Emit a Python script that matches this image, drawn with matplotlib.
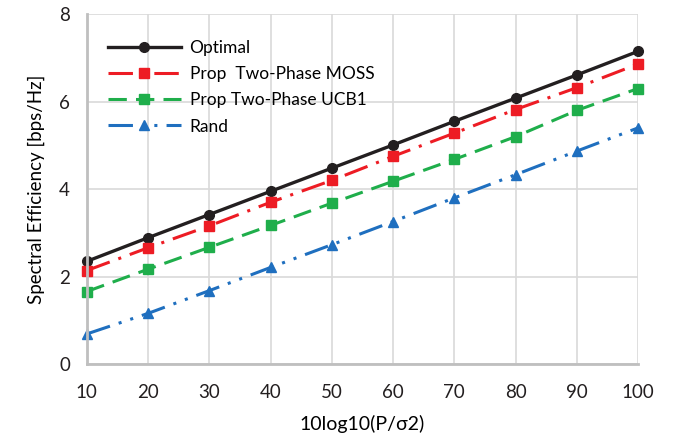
import matplotlib
matplotlib.use("Agg")
import matplotlib.pyplot as plt

plt.rcParams['font.family'] = ['Lato', 'DejaVu Sans']

snr = [10, 20, 30, 40, 50, 60, 70, 80, 90, 100]
optimal = [2.35, 2.89, 3.42, 3.95, 4.48, 5.01, 5.55, 6.08, 6.61, 7.15]
moss = [2.14, 2.66, 3.16, 3.70, 4.20, 4.75, 5.28, 5.82, 6.32, 6.86]
ucb1 = [1.66, 2.17, 2.67, 3.17, 3.68, 4.18, 4.68, 5.20, 5.80, 6.30]
rand = [0.69, 1.16, 1.68, 2.21, 2.73, 3.26, 3.80, 4.33, 4.87, 5.40]

fig = plt.figure(figsize=(6.78, 4.43), dpi=100)
ax = fig.add_axes([0.128, 0.178, 0.813, 0.79])

ax.plot(snr, optimal, color='#231f20', lw=2.4, marker='o', ms=7, label='Optimal')
ax.plot(snr, moss, color='#ed1c24', lw=2.2, marker='s', ms=7,
        dashes=(8, 3, 1, 3), label='Prop  Two-Phase MOSS')
ax.plot(snr, ucb1, color='#1fae4b', lw=2.2, marker='s', ms=7,
        dashes=(6, 3), label='Prop Two-Phase UCB1')
ax.plot(snr, rand, color='#1f6fbf', lw=2.2, marker='^', ms=7,
        dashes=(8, 3, 1, 3, 1, 3), label='Rand')

ax.set_xlim(10, 100)
ax.set_ylim(0, 8)
ax.set_xticks(snr)
ax.set_yticks([0, 2, 4, 6, 8])
ax.grid(True, color='#d9d9d9', lw=1.2)
ax.set_axisbelow(True)
for s in ['top', 'right']:
    ax.spines[s].set_visible(False)
for s in ['left', 'bottom']:
    ax.spines[s].set_color('#bfbfbf')
    ax.spines[s].set_linewidth(2)
ax.tick_params(length=0, labelsize=13.5, pad=14, colors='#231f20')
ax.tick_params(axis='y', pad=12)
ax.set_xlabel('10log10(P/σ2)', fontsize=14, labelpad=10)
ax.set_ylabel('Spectral Efficiency [bps/Hz]', fontsize=13.5, labelpad=10)

leg = ax.legend(loc='upper left', frameon=False, fontsize=12.5, handlelength=4.2,
                handletextpad=0.5, bbox_to_anchor=(0.01, 0.97), labelspacing=0.58)
for line in ax.get_lines():
    line.set_clip_on(False)

fig.savefig('out.png', dpi=100)
